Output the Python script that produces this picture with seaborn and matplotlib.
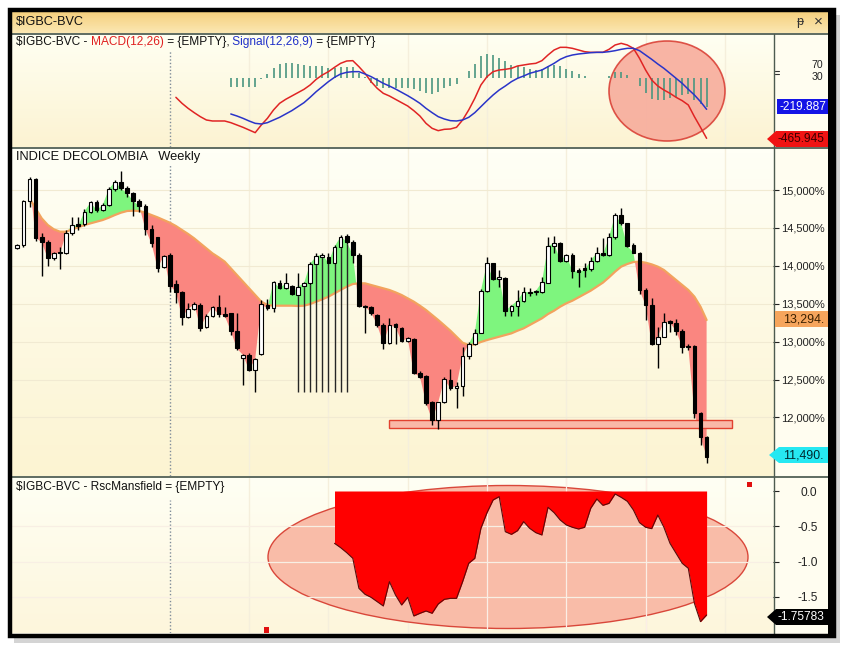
import numpy as np
import pandas as pd
import matplotlib
matplotlib.use("Agg")
import matplotlib.pyplot as plt
import seaborn as sns
from matplotlib.patches import Rectangle, Ellipse, Polygon
from matplotlib.transforms import Affine2D
from matplotlib import font_manager as fm

# ---------------- data (weekly candles) ----------------
open_ = [14230, 14270, 14855, 15145, 14384, 14310, 14099, 14178, 14164, 14428,
         14551, 14551, 14714, 14837, 14736, 14802, 15009, 15110, 15022, 14956,
         14855, 14789, 14481, 14376, 13980, 14143, 13760, 13659, 13320, 13430,
         13483, 13197, 13342, 13461, 13360, 13373, 13140, 12788, 12823, 12626,
         12832, 13483, 13439, 13778, 13703, 13734, 13615, 13734, 13769, 14024,
         14121, 14121, 14041, 14252, 14397, 14318, 14143, 13474, 13461, 13351,
         13219, 12977, 13232, 13184, 13008, 13035, 12582, 12546, 12208, 11966,
         12199, 12494, 12384, 12419, 12815, 12969, 13118, 13672, 14033, 13822,
         13844, 13408, 13474, 13540, 13659, 13650, 13659, 13777, 14261, 14296,
         14068, 14143, 13945, 13967, 13953, 14068, 14173, 14143, 14376, 14670,
         14560, 14274, 14173, 13681, 13483, 12969, 13065, 13272, 13250, 13140,
         12942, 12942, 12063, 11746]
close = [14270, 14855, 15145, 14371, 14310, 14099, 14164, 14164, 14428, 14538,
         14525, 14714, 14837, 14736, 14802, 15009, 15110, 15022, 14956, 14855,
         14789, 14481, 14296, 13967, 14129, 13738, 13659, 13320, 13430, 13492,
         13184, 13342, 13452, 13360, 13342, 13140, 12911, 12823, 12626, 12771,
         13492, 13439, 13791, 13703, 13769, 13624, 13725, 13769, 14024, 14129,
         14143, 14041, 14252, 14384, 14318, 14143, 13474, 13461, 13382, 13219,
         12977, 13219, 13188, 13008, 13043, 12582, 12538, 12195, 11966, 12199,
         12503, 12384, 12419, 12815, 12969, 13118, 13672, 14033, 13822, 13848,
         13408, 13474, 13540, 13659, 13646, 13668, 13782, 14261, 14296, 14068,
         14143, 13931, 13923, 13945, 14068, 14173, 14143, 14376, 14670, 14560,
         14261, 14173, 13681, 13483, 12969, 13065, 13263, 13250, 13140, 12933,
         12925, 12063, 11746, 11482]
high = [14288, 14868, 15176, 15154, 14428, 14340, 14186, 14252, 14472, 14648,
        14639, 14745, 14859, 14868, 14824, 15044, 15132, 15255, 15053, 14978,
        14877, 14811, 14538, 14384, 14143, 14164, 13813, 13672, 13505, 13527,
        13505, 13364, 13470, 13615, 13461, 13382, 13382, 12832, 12845, 12779,
        13549, 13558, 13804, 13813, 13901, 13747, 13901, 13791, 14055, 14164,
        14173, 14164, 14274, 14406, 14415, 14340, 14164, 13483, 13470, 13364,
        13241, 13307, 13241, 13197, 13065, 13052, 12612, 12560, 12217, 12208,
        12538, 12634, 12472, 12925, 12999, 13162, 13690, 14112, 14041, 13945,
        13857, 13483, 13681, 13725, 13703, 13681, 13857, 14384, 14393, 14318,
        14156, 14164, 13967, 14033, 14121, 14252, 14362, 14428, 14692, 14758,
        14569, 14296, 14186, 13703, 13571, 13197, 13373, 13285, 13294, 13162,
        12969, 12955, 12076, 11760]
low = [14217, 14252, 14780, 14327, 13870, 13997, 14077, 13958, 14156, 14406,
       14472, 14525, 14692, 14714, 14723, 14789, 14991, 15000, 14912, 14657,
       14714, 14406, 14252, 13923, 13967, 13659, 13505, 13219, 13307, 13417,
       13140, 13184, 13329, 13329, 13329, 13087, 12889, 12428, 12612, 12340,
       12823, 13417, 13395, 13690, 13690, 13615, 13602, 13725, 13747, 14011,
       14099, 14032, 14032, 14230, 14290, 14032, 13461, 13109, 13351, 13197,
       12898, 12969, 12969, 12999, 12995, 12573, 12516, 12164, 11900, 11843,
       12186, 12362, 12129, 12283, 12771, 12951, 13109, 13659, 13813, 13725,
       13338, 13338, 13338, 13527, 13602, 13615, 13637, 13769, 14164, 14055,
       14055, 13835, 13725, 13857, 13936, 14055, 14129, 14129, 14358, 14538,
       14252, 14164, 13628, 13285, 12960, 12656, 13057, 13131, 13087, 12845,
       12889, 11988, 11636, 11394]
# moving average, from week 3 on
ma = [14890, 14758, 14626, 14538, 14481, 14450, 14450, 14481, 14507, 14538,
      14560, 14582, 14604, 14635, 14670, 14701, 14723, 14727, 14723, 14701,
      14670, 14639, 14604, 14569, 14525, 14472, 14420, 14362, 14296, 14230,
      14164, 14112, 14055, 13967, 13879, 13791, 13703, 13615, 13527, 13483,
      13474, 13474, 13474, 13474, 13470, 13474, 13496, 13527, 13558, 13593,
      13637, 13681, 13725, 13760, 13769, 13769, 13747, 13725, 13703, 13681,
      13650, 13615, 13571, 13527, 13474, 13417, 13351, 13285, 13215, 13144,
      13065, 12986, 12955, 12964, 12995, 13021, 13043, 13065, 13087, 13109,
      13144, 13175, 13219, 13263, 13307, 13364, 13408, 13461, 13505, 13540,
      13584, 13628, 13672, 13725, 13778, 13848, 13923, 13989, 14024, 14050,
      14055, 14041, 14019, 13989, 13945, 13879, 13813, 13747, 13681, 13593,
      13461, 13285]
# weeks whose long vertical drawing lines run down to a common level
long_line_weeks = [46, 47, 48, 49, 50, 51, 52, 53, 54]
long_line_level = 12340
# MACD from week 27, signal from week 36
macd = [-146.9, -192.5, -230.5, -263.4, -293.8, -319.1, -326.7, -326.7, -326.7, -339.4,
        -357.1, -374.8, -395.1, -415.4, -357.1, -306.5, -243.1, -192.5, -162.1, -136.7,
        -111.4, -86.1, -53.2, -10.1, 22.8, 48.2, 81.1, 111.5, 129.2, 131.8,
        86.2, 35.5, -27.8, -78.5, -116.5, -136.7, -162.1, -187.4, -212.7, -248.2,
        -288.7, -344.5, -382.4, -400.2, -390.0, -387.5, -374.8, -319.1, -243.1, -154.5,
        -53.2, 10.2, 48.2, 60.8, 65.9, 73.5, 91.2, 98.8, 106.4, 111.5,
        131.8, 174.8, 212.8, 233.1, 233.1, 225.5, 212.8, 200.1, 195.1, 195.1,
        195.1, 217.9, 250.8, 263.5, 250.8, 225.5, 149.5, 60.8, -15.2, -60.8,
        -91.2, -116.5, -146.9, -172.2, -205.1, -293.8, -374.8, -458.4]
signal = [-273.5, -288.7, -306.5, -326.7, -344.5, -349.5, -339.4, -319.1, -298.9, -273.5,
          -248.2, -217.8, -187.4, -146.9, -103.8, -65.8, -27.8, 5.1, 30.5, 43.1,
          48.2, 48.2, 30.5, 10.2, -15.2, -40.5, -60.8, -83.6, -108.9, -134.2,
          -162.1, -192.5, -230.5, -263.4, -293.8, -311.5, -324.2, -326.7, -319.1, -298.9,
          -263.4, -217.8, -172.2, -129.1, -91.2, -60.8, -27.8, -2.5, 15.2, 35.5,
          48.2, 60.8, 86.2, 111.5, 141.9, 162.2, 174.8, 182.4, 187.5, 192.5,
          195.1, 195.1, 200.1, 207.7, 217.9, 225.5, 225.5, 207.7, 174.8, 141.9,
          106.4, 73.5, 35.5, -2.5, -40.5, -86.1, -129.1, -179.8, -238.0]
# Mansfield relative strength from week 53
rsc = [-0.741, -0.802, -0.873, -0.953, -1.378, -1.463, -1.506, -1.567, -1.628, -1.284,
       -1.473, -1.614, -1.506, -1.770, -1.732, -1.699, -1.732, -1.600, -1.534, -1.520,
       -1.520, -1.284, -1.024, -0.953, -0.529, -0.307, -0.127, -0.080, -0.576, -0.614,
       -0.562, -0.434, -0.529, -0.590, -0.623, -0.231, -0.307, -0.411, -0.481, -0.514,
       -0.538, -0.514, -0.245, -0.113, -0.203, -0.175, -0.042, -0.090, -0.146, -0.269,
       -0.448, -0.514, -0.533, -0.340, -0.514, -0.741, -0.883, -1.024, -1.095, -1.591,
       -1.850, -1.756]
price_ticks = [15000, 14500, 14000, 13500, 13000, 12500, 12000]
price_tick_labels = ["15,000%", "14,500%", "14,000%", "13,500%", "13,000%", "12,500%", "12,000%"]
rsc_ticks = [0.0, -0.5, -1.0, -1.5]
rsc_tick_labels = ["0.0", "-0.5", "-1.0", "-1.5"]

# ---------------- layout helpers ----------------
W, H = 847, 648
sns.set_theme(style="white")
avail = {f.name for f in fm.fontManager.ttflist}
if "Liberation Sans Narrow" in avail:
    base, FS = "Liberation Sans Narrow", 9.5
else:
    base, FS = "Liberation Sans", 8.6
plt.rcParams["font.family"] = [base, "DejaVu Sans"]

fig = plt.figure(figsize=(W / 100, H / 100), dpi=100)
fig.patch.set_facecolor("white")
PX = Affine2D().scale(1 / 100, -1 / 100).translate(0, H / 100) + fig.dpi_scale_trans

# drop shadow behind everything
fig.add_artist(Rectangle((14, 15), 826, 628, transform=PX, facecolor="#d4d4d4",
                         edgecolor="none", zorder=-20))
fig.add_artist(Rectangle((11, 11), 818, 623, transform=PX, facecolor="#fffdf0",
                         edgecolor="none", zorder=-19))

X0, DX = 17.3, 6.1
XL = ((12 - X0) / DX, (773 - X0) / DX)


def panel(top, bottom):
    a = fig.add_axes([12 / W, 1 - bottom / H, (773 - 12) / W, (bottom - top) / H])
    a.set_xlim(*XL)
    a.set_xticks([])
    for s in a.spines.values():
        s.set_visible(False)
    return a


ax_m = panel(34, 147)
ax_p = panel(148, 476)
ax_r = panel(478, 633)

ax_p.set_ylim(15000 - (476 - 190) * 13.19, 15000 - (148 - 190) * 13.19)
ax_m.set_ylim((78 - 147) * 7.6, (78 - 34) * 7.6)
ax_r.set_ylim(-(633 - 491) * 0.01416, -(478 - 491) * 0.01416)

# gradient backgrounds
for a, c1, c2 in [(ax_p, "#fcf4d2", "#fffff6"), (ax_m, "#fcf3d2", "#fffff2"), (ax_r, "#fdf6dc", "#fffff4")]:
    g = np.linspace(0, 1, 64)[:, None]
    cmap = matplotlib.colors.LinearSegmentedColormap.from_list("g", [c1, c2])
    a.imshow(g, extent=(0, 1, 1, 0), transform=a.transAxes, cmap=cmap, aspect="auto", zorder=-10)
    a.set_xlim(*XL)

weeks = np.arange(len(close))
o, c, h, l = map(np.array, (open_, close, high, low))

# quarterly faint verticals and dotted cursor line
for a in (ax_m, ax_p, ax_r):
    for q in [38, 51, 64, 77, 90, 103, 116]:
        a.axvline(q, color="#f5efdc", lw=1, zorder=0)
    a.axvline(25, color="#7f8c99", lw=1, ls=(0, (1, 1.5)), zorder=1,
              ymax=0.86 if a is ax_m else (0.95 if a is ax_p else 0.86))

# ---------------- main price panel ----------------
for t in price_ticks:
    ax_p.axhline(t, color="#f1ead2", lw=0.8, zorder=0)
ma_x = np.arange(2, 2 + len(ma))
ma_a = np.array(ma, dtype=float)
cl = c[2:].astype(float)
ax_p.fill_between(ma_x, cl, ma_a, where=cl >= ma_a, interpolate=True, color="#7ef57e", lw=0, zorder=2)
ax_p.fill_between(ma_x, cl, ma_a, where=cl < ma_a, interpolate=True, color="#fa8680", lw=0, zorder=2)
sns.lineplot(x=ma_x, y=ma_a, ax=ax_p, color="#f2a35e", lw=1.6, zorder=3, legend=False)

ax_p.vlines(long_line_weeks, long_line_level, l[long_line_weeks], color="#262626", lw=1, zorder=3)
ax_p.vlines(weeks, l, h, color="black", lw=1, zorder=4)
up = c >= o
body_lo = np.minimum(o, c)
body_h = np.maximum(np.abs(c - o), 12)
ax_p.bar(weeks, body_h, bottom=body_lo, width=0.62,
         color=np.where(up, "white", "black"), edgecolor="black", lw=0.8, zorder=5)

# support band
ax_p.add_patch(Rectangle((389, 420), 343, 8, transform=PX, facecolor="#f9b8a8",
                         edgecolor="#e2412f", lw=1, zorder=3))

ax_p.yaxis.tick_right()
ax_p.set_yticks(price_ticks)
ax_p.set_yticklabels(price_tick_labels, fontsize=FS - 0.6)
ax_p.tick_params(axis="y", right=True, length=4, width=0.8, pad=1.5, colors="#222222")
ax_p.set_ylabel("")

# ---------------- MACD panel ----------------
macd_x = np.arange(26, 26 + len(macd))
sig_x = np.arange(35, 35 + len(signal))
macd_a = np.array(macd)
sig_a = np.array(signal)
hist = macd_a[9:] - sig_a
ax_m.add_patch(Ellipse((667, 91), 116, 100, transform=PX, facecolor="#f7a898",
                       edgecolor="#d83a30", lw=1.2, alpha=0.85, zorder=2))
ax_m.vlines(sig_x, 0, hist, color="#4a9680", lw=1.2, zorder=3)
sns.lineplot(x=macd_x, y=macd_a, ax=ax_m, color="#e02424", lw=1.1, zorder=4, legend=False)
sns.lineplot(x=sig_x, y=sig_a, ax=ax_m, color="#2a34c8", lw=1.1, zorder=5, legend=False)
ax_m.set_yticks([])
ax_m.set_ylabel("")

# ---------------- RSC Mansfield panel ----------------
rsc_x = np.arange(52, 52 + len(rsc))
rsc_a = np.array(rsc)
ax_r.add_patch(Ellipse((508, 557), 480, 143, transform=PX, facecolor="#f9bca8",
                       edgecolor="#d9473a", lw=1, zorder=1))
for t in rsc_ticks[1:]:
    ax_r.axhline(t, color="#f8efe4", lw=0.9, zorder=1.5)
for q in [77, 90, 103]:
    ax_r.axvline(q, color="#fbeee6", lw=0.9, zorder=1.5)
ax_r.fill_between(rsc_x, rsc_a, 0, color="#ff0000", lw=0, zorder=3)
sns.lineplot(x=rsc_x, y=rsc_a, ax=ax_r, color="#5a0b0b", lw=0.8, zorder=4, legend=False)
ax_r.yaxis.tick_right()
ax_r.set_yticks(rsc_ticks)
ax_r.set_yticklabels(rsc_tick_labels, fontsize=FS, ha="right")
ax_r.tick_params(axis="y", right=True, length=4, width=0.8, pad=28, colors="#222222")
ax_r.set_ylabel("")

# ---------------- overlay: frame, headers, value tags ----------------
ov = fig.add_axes([0, 0, 1, 1], zorder=20)
ov.axis("off")
ov.patch.set_alpha(0)

# title bar
g = np.linspace(0, 1, 32)[:, None]
cmap_t = matplotlib.colors.LinearSegmentedColormap.from_list("t", ["#f5cf7c", "#fbe7b2"])
ov.imshow(g, extent=(11.5, 828, 33, 11.5), cmap=cmap_t, aspect="auto", zorder=1)
ov.set_xlim(0, W)
ov.set_ylim(H, 0)

ov.add_patch(Rectangle((10, 10), 824, 626, facecolor="none", edgecolor="black", lw=3.2, zorder=9))
ov.add_patch(Rectangle((828, 10), 7, 626, facecolor="black", edgecolor="none", zorder=9))

ov.text(16, 22.5, "$IGBC-BVC", fontsize=FS + 0.5, va="center", ha="left", color="#111111", zorder=5)
ov.text(800, 21.5, "ᵽ", fontsize=9, va="center", ha="center", color="#333333", zorder=5)
ov.text(818, 21.5, "×", fontsize=11, va="center", ha="center", color="#333333", zorder=5)

# separators
for y in [33.5, 147.5, 477]:
    ov.plot([11.5, 828], [y, y], color="#33443a", lw=1.1, zorder=5)
ov.plot([773.5, 773.5], [33.5, 634], color="#4d5b50", lw=1, zorder=5)


def chain(parts, x, y, size):
    t = ov.text(x, y, parts[0][0], color=parts[0][1], fontsize=size, va="center", ha="left", zorder=6)
    for s, col in parts[1:]:
        t = ov.annotate(s, xy=(1, 0), xycoords=t, va="bottom", ha="left", color=col,
                        fontsize=size, zorder=6)
    return t


chain([("$IGBC-BVC - ", "#111111"), ("MACD(12,26)", "#e02020"), (" = {EMPTY},", "#111111"),
       (" Signal(12,26,9)", "#2030c8"), (" = {EMPTY}", "#111111")], 16, 42, FS)
ov.text(16, 157, "INDICE DECOLOMBIA   Weekly", fontsize=FS + 0.7, va="center", ha="left",
        color="#111111", zorder=6)
ov.text(16, 487, "$IGBC-BVC - RscMansfield = {EMPTY}", fontsize=FS, va="center", ha="left",
        color="#111111", zorder=6)

# MACD right scale marks ("70" just above "30")
ov.plot([775, 779], [70.5, 70.5], color="#333333", lw=0.8, zorder=6)
ov.plot([775, 779], [74, 74], color="#333333", lw=0.8, zorder=6)
ov.text(823, 65.5, "70", fontsize=FS - 1, va="center", ha="right", color="#222222", zorder=6)
ov.text(823, 77.5, "30", fontsize=FS - 1, va="center", ha="right", color="#222222", zorder=6)

# value tags
ov.add_patch(Rectangle((777, 99), 51, 15, facecolor="#1414e6", edgecolor="none", zorder=7))
ov.text(779, 106.5, "-219.887", fontsize=FS, va="center", ha="left", color="white", zorder=8)
ov.add_patch(Polygon([(767, 139), (776, 131), (828, 131), (828, 147), (776, 147)],
                     facecolor="#f01414", edgecolor="none", zorder=7))
ov.text(778, 139, "-465.945", fontsize=FS, va="center", ha="left", color="#3a0000", zorder=8)
ov.add_patch(Rectangle((775, 311), 53, 16, facecolor="#f6a55c", edgecolor="none", zorder=7))
ov.text(783, 319, "13,294.", fontsize=FS + 0.3, va="center", ha="left", color="#3a2000", zorder=8)
ov.add_patch(Polygon([(769, 455), (779, 447), (828, 447), (828, 463), (779, 463)],
                     facecolor="#26e8f2", edgecolor="none", zorder=7))
ov.text(783, 455, "11,490.", fontsize=FS + 0.3, va="center", ha="left", color="#002a30", zorder=8)
ov.add_patch(Polygon([(767, 617), (776, 609), (828, 609), (828, 625), (776, 625)],
                     facecolor="black", edgecolor="none", zorder=7))
ov.text(778, 617, "-1.75783", fontsize=FS, va="center", ha="left", color="white", zorder=8)

# small red markers
ov.add_patch(Rectangle((747, 482), 5, 5, facecolor="#e01010", edgecolor="none", zorder=7))
ov.add_patch(Rectangle((264, 627), 5, 6, facecolor="#e01010", edgecolor="none", zorder=7))

fig.savefig("out.png", dpi=100, facecolor="white")
